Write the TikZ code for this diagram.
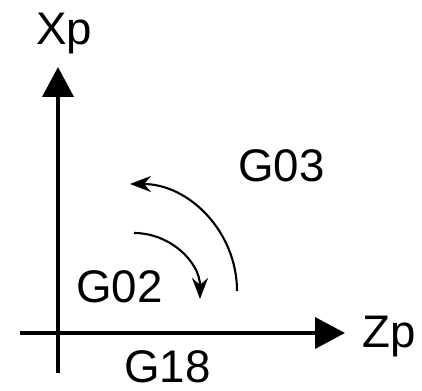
\documentclass[tikz,border=0pt]{standalone}
\usepackage{fontspec}
\setsansfont{Liberation Sans}
\usetikzlibrary{positioning, arrows.meta}

\begin{document}
\begin{tikzpicture}[
    x=0.02cm, y=0.02cm,
    axis/.style={line width=2.1pt, -{Triangle[length=0.6cm, width=0.62cm]}},
    rot/.style={line width=1.2pt, -{Stealth[length=0.42cm, width=0.32cm]}},
    lbl/.style={
      font=\sffamily\fontsize{26}{30}\selectfont,
      anchor=base west, inner sep=0pt,
    },
]
\useasboundingbox (0,0) rectangle (422,391);

% Axes
\coordinate (xlo) at (58, 18);
\coordinate (xhi) at (58, 324);
\coordinate (zlo) at (20, 58);
\coordinate (zhi) at (345, 58);
\draw[axis] (xlo) -- (xhi);
\draw[axis] (zlo) -- (zhi);

% Axis names
\node[lbl] (Xp) at (36, 346) {Xp};
\node[lbl] (Zp) at (362, 43) {Zp};
\node[lbl] (plane) at (124, 8) {G18};

% Arcs: G03 counter-clockwise, G02 clockwise
\coordinate (g03s) at (237, 100);
\coordinate (g02s) at (134, 158);
\draw[rot] (g03s) arc[start angle=0, end angle=90, radius=107];
\draw[rot] (g02s) arc[start angle=90, end angle=0, radius=66];

\node[lbl] (ccw) at (238, 209) {G03};
\node[lbl] (cw) at (76, 88) {G02};
\end{tikzpicture}
\end{document}
